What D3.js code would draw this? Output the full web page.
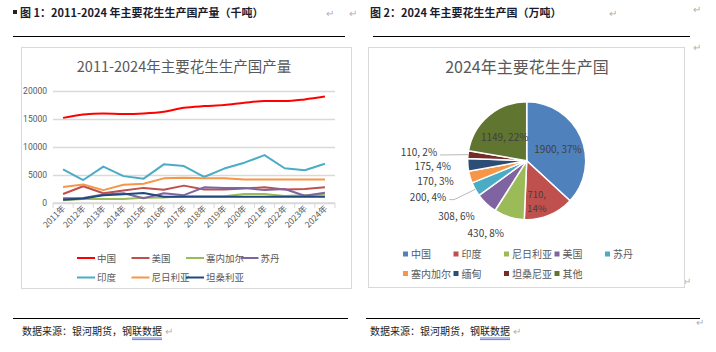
<!DOCTYPE html>
<html>
<head>
<meta charset="utf-8">
<script src="https://cdn.jsdelivr.net/npm/d3@7"></script>
<style>
  body { margin: 0; background: #fff; }
  svg { display: block; font-family: "Noto Sans CJK SC", "Noto Sans", sans-serif; }
</style>
</head>
<body>
<div id="chart"></div>
<script>
// line chart data (thousand tonnes)
const years = ["2011年","2012年","2013年","2014年","2015年","2016年","2017年","2018年","2019年","2020年","2021年","2022年","2023年","2024年"];
const lineNames = ["中国", "美国", "塞内加尔", "苏丹", "印度", "尼日利亚", "坦桑利亚"];
const lineColors = ["#FF0000", "#C0504D", "#9BBB59", "#8064A2", "#4BACC6", "#F79646", "#1F497D"];
const chinaVals    = [15200, 15800, 16000, 15900, 16000, 16300, 17000, 17300, 17500, 17900, 18200, 18200, 18500, 19000];
const usVals       = [1600, 3000, 1750, 2250, 2700, 2350, 3100, 2400, 2400, 2600, 2800, 2400, 2500, 2800];
const senegalVals  = [500, 700, 700, 700, 950, 1000, 1200, 1200, 1200, 1600, 1600, 1250, 1400, 1500];
const sudanVals    = [850, 900, 1500, 1750, 850, 1750, 1400, 2800, 2700, 2700, 2300, 2500, 1300, 1850];
const indiaVals    = [6000, 4100, 6500, 4800, 4350, 6900, 6600, 4650, 6150, 7200, 8550, 6200, 5850, 7000];
const nigeriaVals  = [2850, 3300, 2300, 3250, 3450, 4400, 4500, 4400, 4400, 4200, 4200, 4200, 4200, 4200];
const tanzaniaVals = [600, 800, 1400, 1550, 1800, 1100, 1100, 1100, 1100, 1100, 1100, 1100, 1100, 1100];
const lineSeries = [chinaVals, usVals, senegalVals, sudanVals, indiaVals, nigeriaVals, tanzaniaVals];
const yTicks = [0, 5000, 10000, 15000, 20000];

// pie data (10k tonnes)
const pieNames = ["中国", "印度", "尼日利亚", "美国", "苏丹", "塞内加尔", "缅甸", "坦桑尼亚", "其他"];
const pieVals = [1900, 710, 430, 308, 200, 170, 175, 110, 1149];
const piePcts = ["37%", "14%", "8%", "6%", "4%", "3%", "4%", "2%", "22%"];
const pieColors = ["#4F81BD", "#C0504D", "#9BBB59", "#8064A2", "#4BACC6", "#F79646", "#2C4D75", "#772C2A", "#5F7530"];

const W = 716, H = 352;
const svg = d3.select("#chart").append("svg").attr("width", W).attr("height", H);
svg.append("rect").attr("width", W).attr("height", H).attr("fill", "#fff");

const grey = "#595959";
const markColor = "#b0b0b0";

// ---------- page headers ----------
svg.append("rect").attr("x", 13).attr("y", 10).attr("width", 4).attr("height", 4).attr("fill", "#222");
svg.append("text").attr("x", 20).attr("y", 17).attr("font-size", 11).attr("font-weight", "bold")
  .attr("fill", "#1c1c2e").text("图 1：2011-2024 年主要花生生产国产量（千吨）");
svg.append("text").attr("x", 370).attr("y", 17).attr("font-size", 11).attr("font-weight", "bold")
  .attr("fill", "#1c1c2e").text("图 2：2024 年主要花生生产国（万吨）");

[[326, 17], [349, 17], [609, 17], [693, 13], [693, 51], [683, 285], [696, 326]].forEach(p => {
  svg.append("text").attr("x", p[0]).attr("y", p[1]).attr("font-size", 10).attr("fill", markColor).text("↵");
});

svg.append("line").attr("x1", 13).attr("x2", 345).attr("y1", 36.5).attr("y2", 36.5).attr("stroke", "#000").attr("stroke-width", 1);
svg.append("line").attr("x1", 373).attr("x2", 690).attr("y1", 36.5).attr("y2", 36.5).attr("stroke", "#000").attr("stroke-width", 1);
svg.append("line").attr("x1", 13).attr("x2", 348).attr("y1", 318.5).attr("y2", 318.5).attr("stroke", "#000").attr("stroke-width", 1);
svg.append("line").attr("x1", 366).attr("x2", 700).attr("y1", 318.5).attr("y2", 318.5).attr("stroke", "#000").attr("stroke-width", 1);

function sourceNote(x) {
  const t = svg.append("text").attr("x", x).attr("y", 335).attr("font-size", 10).attr("fill", "#222")
    .text("数据来源：银河期货，钢联数据");
  const len = t.node().getComputedTextLength();
  const ux = x + len * 11 / 14;
  svg.append("line").attr("x1", ux).attr("x2", x + len).attr("y1", 338).attr("y2", 338).attr("stroke", "#3a5fcd").attr("stroke-width", 0.8);
  svg.append("line").attr("x1", ux).attr("x2", x + len).attr("y1", 339.6).attr("y2", 339.6).attr("stroke", "#3a5fcd").attr("stroke-width", 0.8);
  svg.append("text").attr("x", x + len + 3).attr("y", 335).attr("font-size", 10).attr("fill", markColor).text("↵");
}
sourceNote(22);
sourceNote(370);

// ---------- line chart ----------
svg.append("rect").attr("x", 21.5).attr("y", 47.5).attr("width", 330).attr("height", 241)
  .attr("fill", "#fff").attr("stroke", "#d9d9d9");

svg.append("text").attr("x", 184).attr("y", 72).attr("text-anchor", "middle").attr("font-size", 14.5)
  .attr("fill", grey).text("2011-2024年主要花生生产国产量");

const x = d3.scaleBand().domain(years).range([53, 335]);
const y = d3.scaleLinear().domain([0, 20000]).range([203, 91]);

const yAxis = svg.append("g").attr("transform", "translate(53,0)")
  .call(d3.axisLeft(y).tickValues(yTicks).tickSize(-282).tickPadding(6).tickFormat(d3.format("d")));
yAxis.select(".domain").remove();
yAxis.selectAll(".tick line").attr("stroke", "#d9d9d9").attr("stroke-width", 1.5);
yAxis.selectAll(".tick text").attr("fill", grey).attr("font-size", 8.5).attr("font-family", "Roboto, sans-serif");

const xg = svg.append("g");
xg.append("line").attr("x1", 53).attr("x2", 335).attr("y1", 203).attr("y2", 203).attr("stroke", "#d9d9d9").attr("stroke-width", 1.5);
const bounds = years.map(d => x(d)).concat([x.range()[1]]);
xg.selectAll("line.tk").data(bounds).enter().append("line").attr("class", "tk")
  .attr("x1", d => d).attr("x2", d => d).attr("y1", 203).attr("y2", 208)
  .attr("stroke", "#d9d9d9");
xg.selectAll("text").data(years).enter().append("text")
  .attr("transform", d => `translate(${x(d) + x.bandwidth() / 2 + 3},${209}) rotate(-45)`)
  .attr("text-anchor", "end").attr("font-size", 8.5).attr("fill", grey).text(d => d);

const line = d3.line().x((d, i) => x(years[i]) + x.bandwidth() / 2).y(d => y(d));
lineSeries.forEach((vals, k) => {
  svg.append("path").datum(vals)
    .attr("d", line.curve(k === 0 ? d3.curveMonotoneX : d3.curveLinear))
    .attr("fill", "none").attr("stroke", lineColors[k])
    .attr("stroke-width", 2).attr("stroke-linejoin", "round");
});

// legend
lineNames.forEach((name, i) => {
  const col = i < 4 ? i : i - 4;
  const row = i < 4 ? 0 : 1;
  const lx = 77 + col * 54.5;
  const ly = 258 + row * 19.5;
  svg.append("line").attr("x1", lx).attr("x2", lx + 18).attr("y1", ly).attr("y2", ly)
    .attr("stroke", lineColors[i]).attr("stroke-width", 2);
  svg.append("text").attr("x", lx + 20).attr("y", ly + 3.5).attr("font-size", 9.5).attr("fill", grey).text(name);
});

// ---------- pie chart ----------
svg.append("rect").attr("x", 368.5).attr("y", 47.5).attr("width", 316).attr("height", 240)
  .attr("fill", "#fff").attr("stroke", "#d9d9d9");

svg.append("text").attr("x", 527).attr("y", 73).attr("text-anchor", "middle").attr("font-size", 16)
  .attr("fill", grey).text("2024年主要花生生产国");

const cx = 526.7, cy = 160.7, R = 59;
const pie = d3.pie().sort(null).value(d => d);
const arcs = pie(pieVals);
const arc = d3.arc().innerRadius(0).outerRadius(R);
const pg = svg.append("g").attr("transform", `translate(${cx},${cy})`);
pg.selectAll("path").data(arcs).enter().append("path")
  .attr("d", arc).attr("fill", (d, i) => pieColors[i])
  .attr("stroke", "#fff").attr("stroke-width", 1.5);

const labelColor = "#404040";
const insideArc = d3.arc().innerRadius(R * 0.58).outerRadius(R * 0.58);
const pushed = ["苏丹", "坦桑尼亚"];
arcs.forEach((a, i) => {
  const frac = (a.endAngle - a.startAngle) / (2 * Math.PI);
  const mid = (a.startAngle + a.endAngle) / 2;
  const txt = `${pieVals[i]}, ${piePcts[i]}`;
  if (frac > 0.1) {
    const [px, py] = insideArc.centroid(a);
    if (pieNames[i] === "印度") {
      // Excel wraps this one onto two lines
      pg.append("text").attr("x", px - 3).attr("y", py + 6).attr("text-anchor", "middle")
        .attr("font-size", 9.5).attr("fill", labelColor).text(`${pieVals[i]},`);
      pg.append("text").attr("x", px - 3).attr("y", py + 20).attr("text-anchor", "middle")
        .attr("font-size", 9.5).attr("fill", labelColor).text(piePcts[i]);
    } else {
      pg.append("text").attr("x", px).attr("y", py + 6).attr("text-anchor", "middle")
        .attr("font-size", 10).attr("fill", labelColor).text(txt);
    }
  } else {
    const rr = 76;
    let lx = Math.sin(mid) * rr, ly = -Math.cos(mid) * rr;
    if (pushed.includes(pieNames[i])) {
      lx -= 14;
      const ex = Math.sin(mid) * R, ey = -Math.cos(mid) * R;
      pg.append("polyline")
        .attr("points", `${lx + 3},${ly + 2} ${lx + 8},${ly + 2} ${ex},${ey}`)
        .attr("fill", "none").attr("stroke", "#a6a6a6").attr("stroke-width", 0.8);
    }
    pg.append("text").attr("x", lx).attr("y", ly + 3.5).attr("text-anchor", "end")
      .attr("font-size", 10).attr("fill", labelColor).text(txt);
  }
});

// legend
pieNames.forEach((name, i) => {
  const col = i < 5 ? i : i - 5;
  const row = i < 5 ? 0 : 1;
  const lx = 403 + col * 50.5;
  const ly = 254 + row * 19.5;
  svg.append("rect").attr("x", lx).attr("y", ly - 2.5).attr("width", 5).attr("height", 5).attr("fill", pieColors[i]);
  svg.append("text").attr("x", lx + 8).attr("y", ly + 4).attr("font-size", 10).attr("fill", grey).text(name);
});
</script>
</body>
</html>
